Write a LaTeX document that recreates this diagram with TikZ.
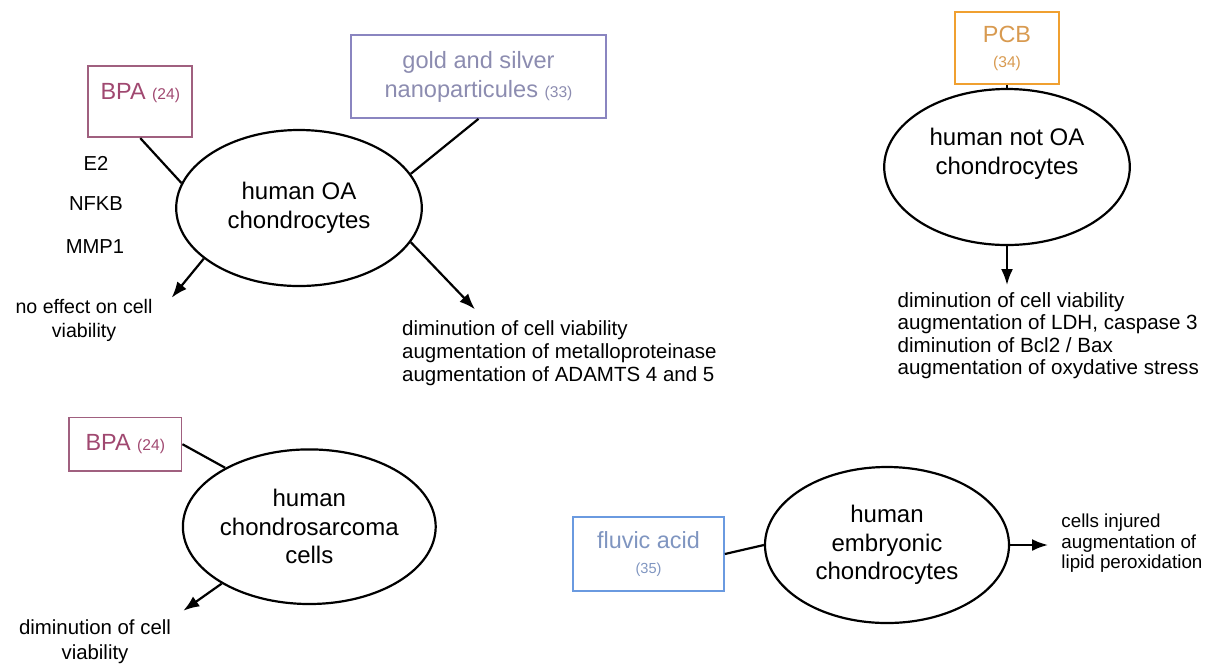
\documentclass[tikz,border=0pt]{standalone}
\usepackage{fontspec}
\setmainfont{Liberation Sans}
\usetikzlibrary{arrows.meta,shapes.geometric}
\definecolor{bpacol}{HTML}{A0607F}
\definecolor{bpatext}{HTML}{A04870}
\definecolor{goldcol}{HTML}{8A85C0}
\definecolor{goldtext}{HTML}{8C8CB0}
\definecolor{pcbcol}{HTML}{F0A030}
\definecolor{pcbtext}{HTML}{D89A50}
\definecolor{fluvcol}{HTML}{6A9AE0}
\definecolor{fluvtext}{HTML}{7F95C0}
\newcommand{\refnum}[1]{{\fontsize{7.8}{9}\selectfont #1}}
\begin{document}
\begin{tikzpicture}[x=0.5pt,y=-0.5pt,
    cell/.style={ellipse,draw,line width=1.1pt,inner sep=0pt,align=center,
        minimum width=122.8pt,minimum height=78pt,
        font=\fontsize{12}{14.3}\selectfont},
    agent/.style={rectangle,draw,line width=0.85pt,inner sep=0pt,align=center,
        font=\fontsize{11.7}{12.5}\selectfont},
    effect/.style={inner sep=0pt,font=\fontsize{10.1}{12}\selectfont},
    link/.style={line width=1.1pt},
    result/.style={-{Latex[length=8pt,width=6pt]},line width=1.1pt}]
    \useasboundingbox (0,0) rectangle (1206,666);
    % cell types
    \node[cell] (oa) at (299,208) {human OA\\chondrocytes};
    \node[cell,text depth=15.5pt] (notoa) at (1007,167) {human not OA\\chondrocytes};
    \node[cell,minimum width=123.3pt,minimum height=77.3pt] (sarcoma) at (309.3,526.7) {human\\chondrosarcoma\\cells};
    \node[cell,minimum width=122pt] (embryo) at (887,545) {human\\embryonic\\chondrocytes};
    % agents
    \node[agent,draw=bpacol,text=bpatext,minimum width=52pt,minimum height=35.8pt,text height=17pt,text depth=18.8pt] (bpa1) at (140.3,101.5) {BPA \refnum{(24)}};
    \node[agent,draw=goldcol,text=goldtext,minimum width=127.5pt,minimum height=41.5pt,font=\fontsize{11.8}{14.5}\selectfont] (gold) at (478.5,76.5) {gold and silver\\nanoparticules \refnum{(33)}};
    \node[agent,draw=pcbcol,text=pcbtext,minimum width=52pt,minimum height=36pt] (pcb) at (1007,48.3) {PCB\\\refnum{(34)}};
    \node[agent,draw=bpacol,text=bpatext,minimum width=56.3pt,minimum height=26.8pt] (bpa2) at (125.3,444.2) {BPA \refnum{(24)}};
    \node[agent,draw=fluvcol,text=fluvtext,minimum width=75.5pt,minimum height=37pt] (fluvic) at (648.5,554) {fluvic acid\\{\fontsize{7.3}{9}\selectfont (35)}};
    % effects
    \node[effect] (e2) at (96,163) {E2};
    \node[effect] (nfkb) at (96,204) {NFKB};
    \node[effect] (mmp1) at (95,247) {MMP1};
    \node[effect,align=center,font=\fontsize{9.8}{12}\selectfont] (noeff) at (84,320) {no effect on cell\\viability};
    \node[effect,align=left,anchor=west,font=\fontsize{10.25}{11.4}\selectfont] (oares) at (401.7,353) {diminution of cell viability\\augmentation of metalloproteinase\\augmentation of ADAMTS 4 and 5};
    \node[effect,align=left,anchor=west,font=\fontsize{10.3}{11.25}\selectfont] (pcbres) at (897.3,335.5) {diminution of cell viability\\augmentation of LDH, caspase 3\\diminution of Bcl2 / Bax\\augmentation of oxydative stress};
    \node[effect,align=center,font=\fontsize{10.2}{12.3}\selectfont] (sarres) at (95,641.7) {diminution of cell\\viability};
    \node[effect,align=left,anchor=west,font=\fontsize{9.4}{10.2}\selectfont] (embres) at (1061,543.5) {cells injured\\augmentation of\\lipid peroxidation};
    % arrow ends
    \coordinate (noeffend) at (171.7,297.7);
    \coordinate (oaresend) at (475,309.3);
    \coordinate (pcbresend) at (1007,285);
    \coordinate (sarresend) at (183.3,610.7);
    \coordinate (embresend) at (1048,545);
    % links
    \draw[link] (bpa1.south) -- (oa.168);
    \draw[link] (gold.south) -- (oa.17);
    \draw[link] (pcb.south) -- (notoa.north);
    \draw[link] (bpa2.east) -- (sarcoma.145);
    \draw[link] (fluvic.east) -- (embryo.west);
    \draw[result] (oa.208) -- (noeffend);
    \draw[result] (oa.343) -- (oaresend);
    \draw[result] (notoa.south) -- (pcbresend);
    \draw[result] (sarcoma.213) -- (sarresend);
    \draw[result] (embryo.east) -- (embresend);
\end{tikzpicture}
\end{document}
